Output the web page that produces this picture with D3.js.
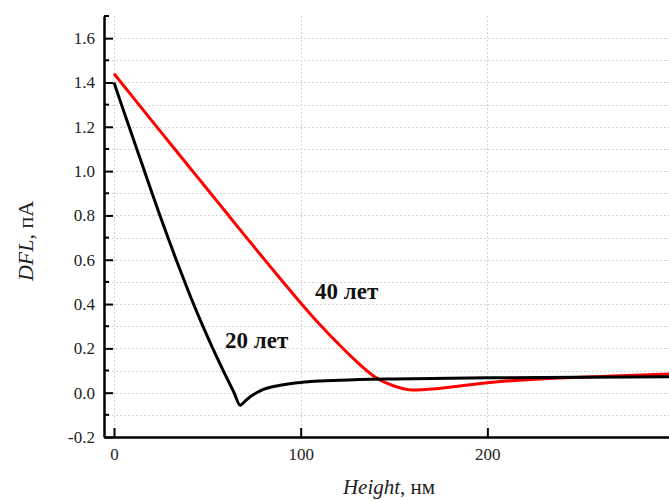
<!DOCTYPE html>
<html>
<head>
<meta charset="utf-8">
<script src="https://cdn.jsdelivr.net/npm/d3@7"></script>
<style>
  html, body { margin: 0; padding: 0; background: #fff; }
  svg { display: block; }
  text { font-family: "Liberation Serif", "Times New Roman", serif; fill: #222; }
</style>
</head>
<body>
<svg id="chart" width="669" height="501"></svg>
<script>
// 20 лет (black)
const height20 = [0, 4.0, 8.1, 12.2, 16.3, 20.4, 24.6, 28.9, 33.3, 37.9, 42.6, 47.6, 52.9, 58.5, 64.3, 67.6,
  70, 73, 76.4, 80, 85, 90.7, 97, 105, 121, 150, 200, 250, 298];
const dfl20 = [1.40, 1.30, 1.20, 1.10, 1.00, 0.90, 0.80, 0.70, 0.60, 0.50, 0.40, 0.30, 0.20, 0.10, 0.00, -0.057,
  -0.04, -0.018, 0.0, 0.015, 0.027, 0.036, 0.044, 0.050, 0.056, 0.062, 0.067, 0.070, 0.072];

// 40 лет (red)
const height40 = [0, 10, 20, 30, 40, 50, 60, 70, 80, 90, 100, 110, 120, 130, 140, 150, 160, 175, 200, 228, 264, 298];
const dfl40 = [1.44, 1.335, 1.23, 1.126, 1.022, 0.918, 0.814, 0.71, 0.607, 0.505, 0.405, 0.31, 0.222, 0.14, 0.07,
  0.03, 0.012, 0.02, 0.045, 0.062, 0.074, 0.084];

const xTicks = [0, 100, 200];
const yTicks = [-0.2, 0.0, 0.2, 0.4, 0.6, 0.8, 1.0, 1.2, 1.4, 1.6];
const yMinor = [-0.1, 0.1, 0.3, 0.5, 0.7, 0.9, 1.1, 1.3, 1.5, 1.7];
const yGrid = [-0.1, 0.0, 0.1, 0.2, 0.3, 0.4, 0.5, 0.6, 0.7, 0.8, 0.9, 1.0, 1.1, 1.2, 1.3, 1.4, 1.5, 1.6];

const seriesLabels = [
  { name: "20 лет", x: 59.5, y: 0.20 },
  { name: "40 лет", x: 107.7, y: 0.423 }
];

const svg = d3.select("#chart");
const mLeft = 104, mRight = 669, mTop = 16, mBottom = 437;
const serif = '"Liberation Serif", "Times New Roman", serif';

const x = d3.scaleLinear().domain([-5.36, 297.3]).range([mLeft, mRight]);
const y = d3.scaleLinear().domain([-0.2, 1.7]).range([mBottom, mTop]);

svg.append("clipPath").attr("id", "clip")
  .append("rect")
  .attr("x", mLeft).attr("y", mTop)
  .attr("width", mRight - mLeft).attr("height", mBottom - mTop);

// grid
const grid = svg.append("g")
  .attr("stroke", "#d4d4d4")
  .attr("stroke-width", 1)
  .attr("stroke-dasharray", "2,2");
grid.selectAll("line.h").data(yGrid).enter().append("line")
  .attr("x1", mLeft).attr("x2", mRight)
  .attr("y1", d => Math.round(y(d)) + 0.5).attr("y2", d => Math.round(y(d)) + 0.5);
grid.selectAll("line.v").data(xTicks).enter().append("line")
  .attr("y1", mTop).attr("y2", mBottom)
  .attr("x1", d => Math.round(x(d)) + 0.5).attr("x2", d => Math.round(x(d)) + 0.5);

// curves
const line = d3.line().x(d => x(d[0])).y(d => y(d[1])).curve(d3.curveMonotoneX);
const plot = svg.append("g").attr("clip-path", "url(#clip)");
plot.append("path")
  .datum(d3.zip(height40, dfl40))
  .attr("fill", "none").attr("stroke", "#ff0000").attr("stroke-width", 3)
  .attr("stroke-linejoin", "round")
  .attr("d", line);
plot.append("path")
  .datum(d3.zip(height20, dfl20))
  .attr("fill", "none").attr("stroke", "#000").attr("stroke-width", 3)
  .attr("stroke-linejoin", "round")
  .attr("d", line);

// axes
const yAxis = svg.append("g")
  .attr("transform", `translate(${mLeft},0)`)
  .call(d3.axisLeft(y).tickValues(yTicks).tickFormat(d => d.toFixed(1)).tickSizeInner(-9).tickSizeOuter(0).tickPadding(9));
yAxis.select(".domain").attr("stroke-width", 2.5);
yAxis.selectAll(".tick line").attr("stroke-width", 2);
yAxis.selectAll(".tick text").attr("font-size", 17).style("font-family", serif);

svg.append("g")
  .attr("transform", `translate(${mLeft},0)`)
  .selectAll("line").data(yMinor).enter().append("line")
  .attr("x1", 0).attr("x2", 5)
  .attr("y1", d => y(d)).attr("y2", d => y(d))
  .attr("stroke", "#000").attr("stroke-width", 2);

const xAxis = svg.append("g")
  .attr("transform", `translate(0,${mBottom})`)
  .call(d3.axisBottom(x).tickValues(xTicks).tickFormat(d3.format("d")).tickSizeInner(-9).tickSizeOuter(0).tickPadding(11));
xAxis.select(".domain").attr("stroke-width", 2.5);
xAxis.selectAll(".tick line").attr("stroke-width", 2);
xAxis.selectAll(".tick text").attr("font-size", 17).style("font-family", serif);

// axis titles
const yTitle = svg.append("text")
  .attr("transform", "translate(33,241) rotate(-90)")
  .attr("text-anchor", "middle")
  .attr("font-size", 22)
  .style("font-family", serif);
yTitle.append("tspan").attr("font-style", "italic").text("DFL");
yTitle.append("tspan").text(", пА");

const xTitle = svg.append("text")
  .attr("x", 389).attr("y", 494)
  .attr("text-anchor", "middle")
  .attr("font-size", 21)
  .style("font-family", serif);
xTitle.append("tspan").attr("font-style", "italic").text("Height");
xTitle.append("tspan").text(", нм");

// series labels
svg.selectAll("text.lbl").data(seriesLabels).enter().append("text")
  .attr("class", "lbl")
  .attr("x", d => x(d.x)).attr("y", d => y(d.y))
  .attr("font-size", 23).attr("font-weight", "bold")
  .style("font-family", serif)
  .style("fill", "#111")
  .text(d => d.name);
</script>
</body>
</html>
